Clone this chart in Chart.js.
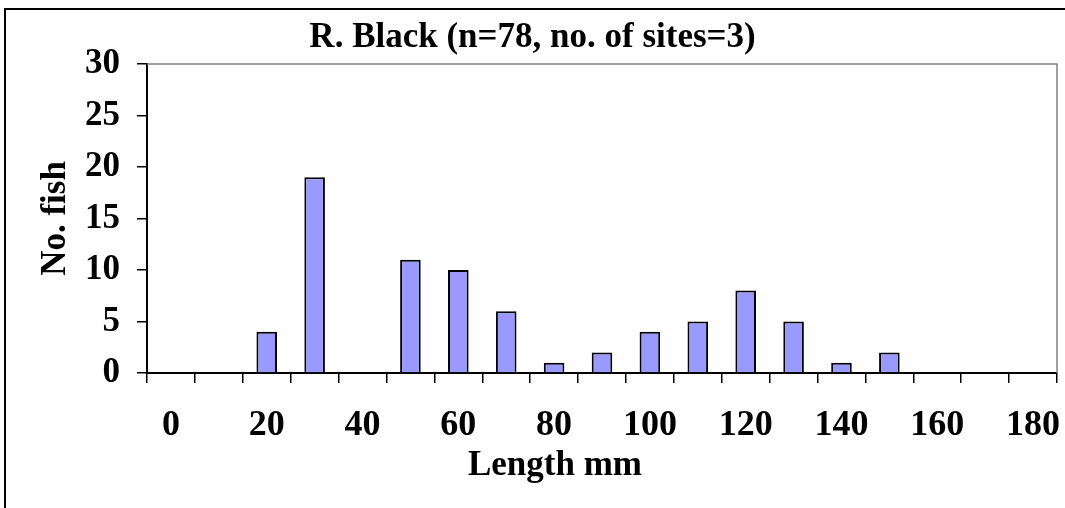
<!DOCTYPE html>
<html>
<head>
<meta charset="utf-8">
<script src="https://cdn.jsdelivr.net/npm/chart.js@4/dist/chart.umd.min.js"></script>
<style>
    html, body { margin: 0; padding: 0; background: #fff; }
    #wrap { position: relative; width: 1065px; height: 508px; }
</style>
</head>
<body>
<div id="wrap"><canvas id="grafica"></canvas></div>
<script>
// Clases de longitud (mm) y numero de peces por clase
var clases = ["0", "10", "20", "30", "40", "50", "60", "70", "80", "90",
    "100", "110", "120", "130", "140", "150", "160", "170", "180"];
var peces = [0, 0, 4, 19, 0, 11, 10, 6, 1, 2, 4, 5, 8, 5, 1, 2, 0, 0, 0];
var marcasY = [0, 5, 10, 15, 20, 25, 30];

var fuente = "'Liberation Serif', 'Times New Roman', serif";

// Marco exterior, borde gris del area y titulo del eje X
var marco = {
    id: "marco",
    afterDraw: function (chart) {
        var ctx = chart.ctx;
        var a = chart.chartArea;
        ctx.save();
        ctx.strokeStyle = "#000";
        ctx.lineWidth = 2;
        ctx.beginPath();
        ctx.moveTo(5, 510);
        ctx.lineTo(5, 9);
        ctx.lineTo(1065, 9);
        ctx.stroke();

        ctx.strokeStyle = "#808080";
        ctx.lineWidth = 1.5;
        ctx.beginPath();
        ctx.moveTo(a.left, a.top);
        ctx.lineTo(a.right, a.top);
        ctx.lineTo(a.right, a.bottom);
        ctx.stroke();

        ctx.fillStyle = "#000";
        ctx.font = "bold 35px " + fuente;
        ctx.textAlign = "center";
        ctx.textBaseline = "middle";
        ctx.fillText("Length mm", 555, 466);
        ctx.restore();
    }
};

new Chart(document.getElementById("grafica"), {
    type: "bar",
    data: {
        labels: clases,
        datasets: [
            {
                data: peces,
                backgroundColor: "#9999FF",
                borderColor: "#000",
                borderWidth: 2,
                borderSkipped: "start",
                barPercentage: 0.43,
                categoryPercentage: 1,
            },
        ],
    },
    options: {
        responsive: true,
        maintainAspectRatio: false,
        animation: false,
        layout: { padding: { left: 8, right: 8, top: 0, bottom: 0 } },
        plugins: {
            legend: { display: false },
            tooltip: { enabled: false },
            title: {
                display: true,
                text: "R. Black (n=78, no. of sites=3)",
                color: "#000",
                font: { family: fuente, size: 35, weight: "bold" },
                padding: { top: 17, bottom: 5 },
            },
        },
        scales: {
            x: {
                grid: {
                    offset: true,
                    drawOnChartArea: false,
                    tickLength: 10,
                    color: "#000",
                    lineWidth: 1.5,
                },
                border: { color: "#000", width: 2 },
                ticks: {
                    autoSkip: false,
                    maxRotation: 0,
                    padding: 21,
                    color: "#000",
                    font: { family: fuente, size: 36, weight: "bold" },
                    callback: function (val, i) {
                        return i % 2 === 0 ? clases[i] : "";
                    },
                },
                afterFit: function (scale) {
                    scale.height = 135;
                    scale.paddingLeft = 0;
                    scale.paddingRight = 0;
                },
            },
            y: {
                min: 0,
                max: 30,
                afterBuildTicks: function (scale) {
                    scale.ticks = marcasY.map(function (v) { return { value: v }; });
                },
                grid: {
                    drawOnChartArea: false,
                    tickLength: 10,
                    color: "#000",
                    lineWidth: 1.5,
                },
                border: { color: "#000", width: 2 },
                ticks: {
                    padding: 17,
                    color: "#000",
                    font: { family: fuente, size: 35, weight: "bold" },
                },
                title: {
                    display: true,
                    text: "No. fish",
                    color: "#000",
                    padding: { top: 27, bottom: 0 },
                    font: { family: fuente, size: 35, weight: "bold" },
                },
                afterFit: function (scale) { scale.width = 139; },
            },
        },
    },
    plugins: [marco],
});
</script>
</body>
</html>
